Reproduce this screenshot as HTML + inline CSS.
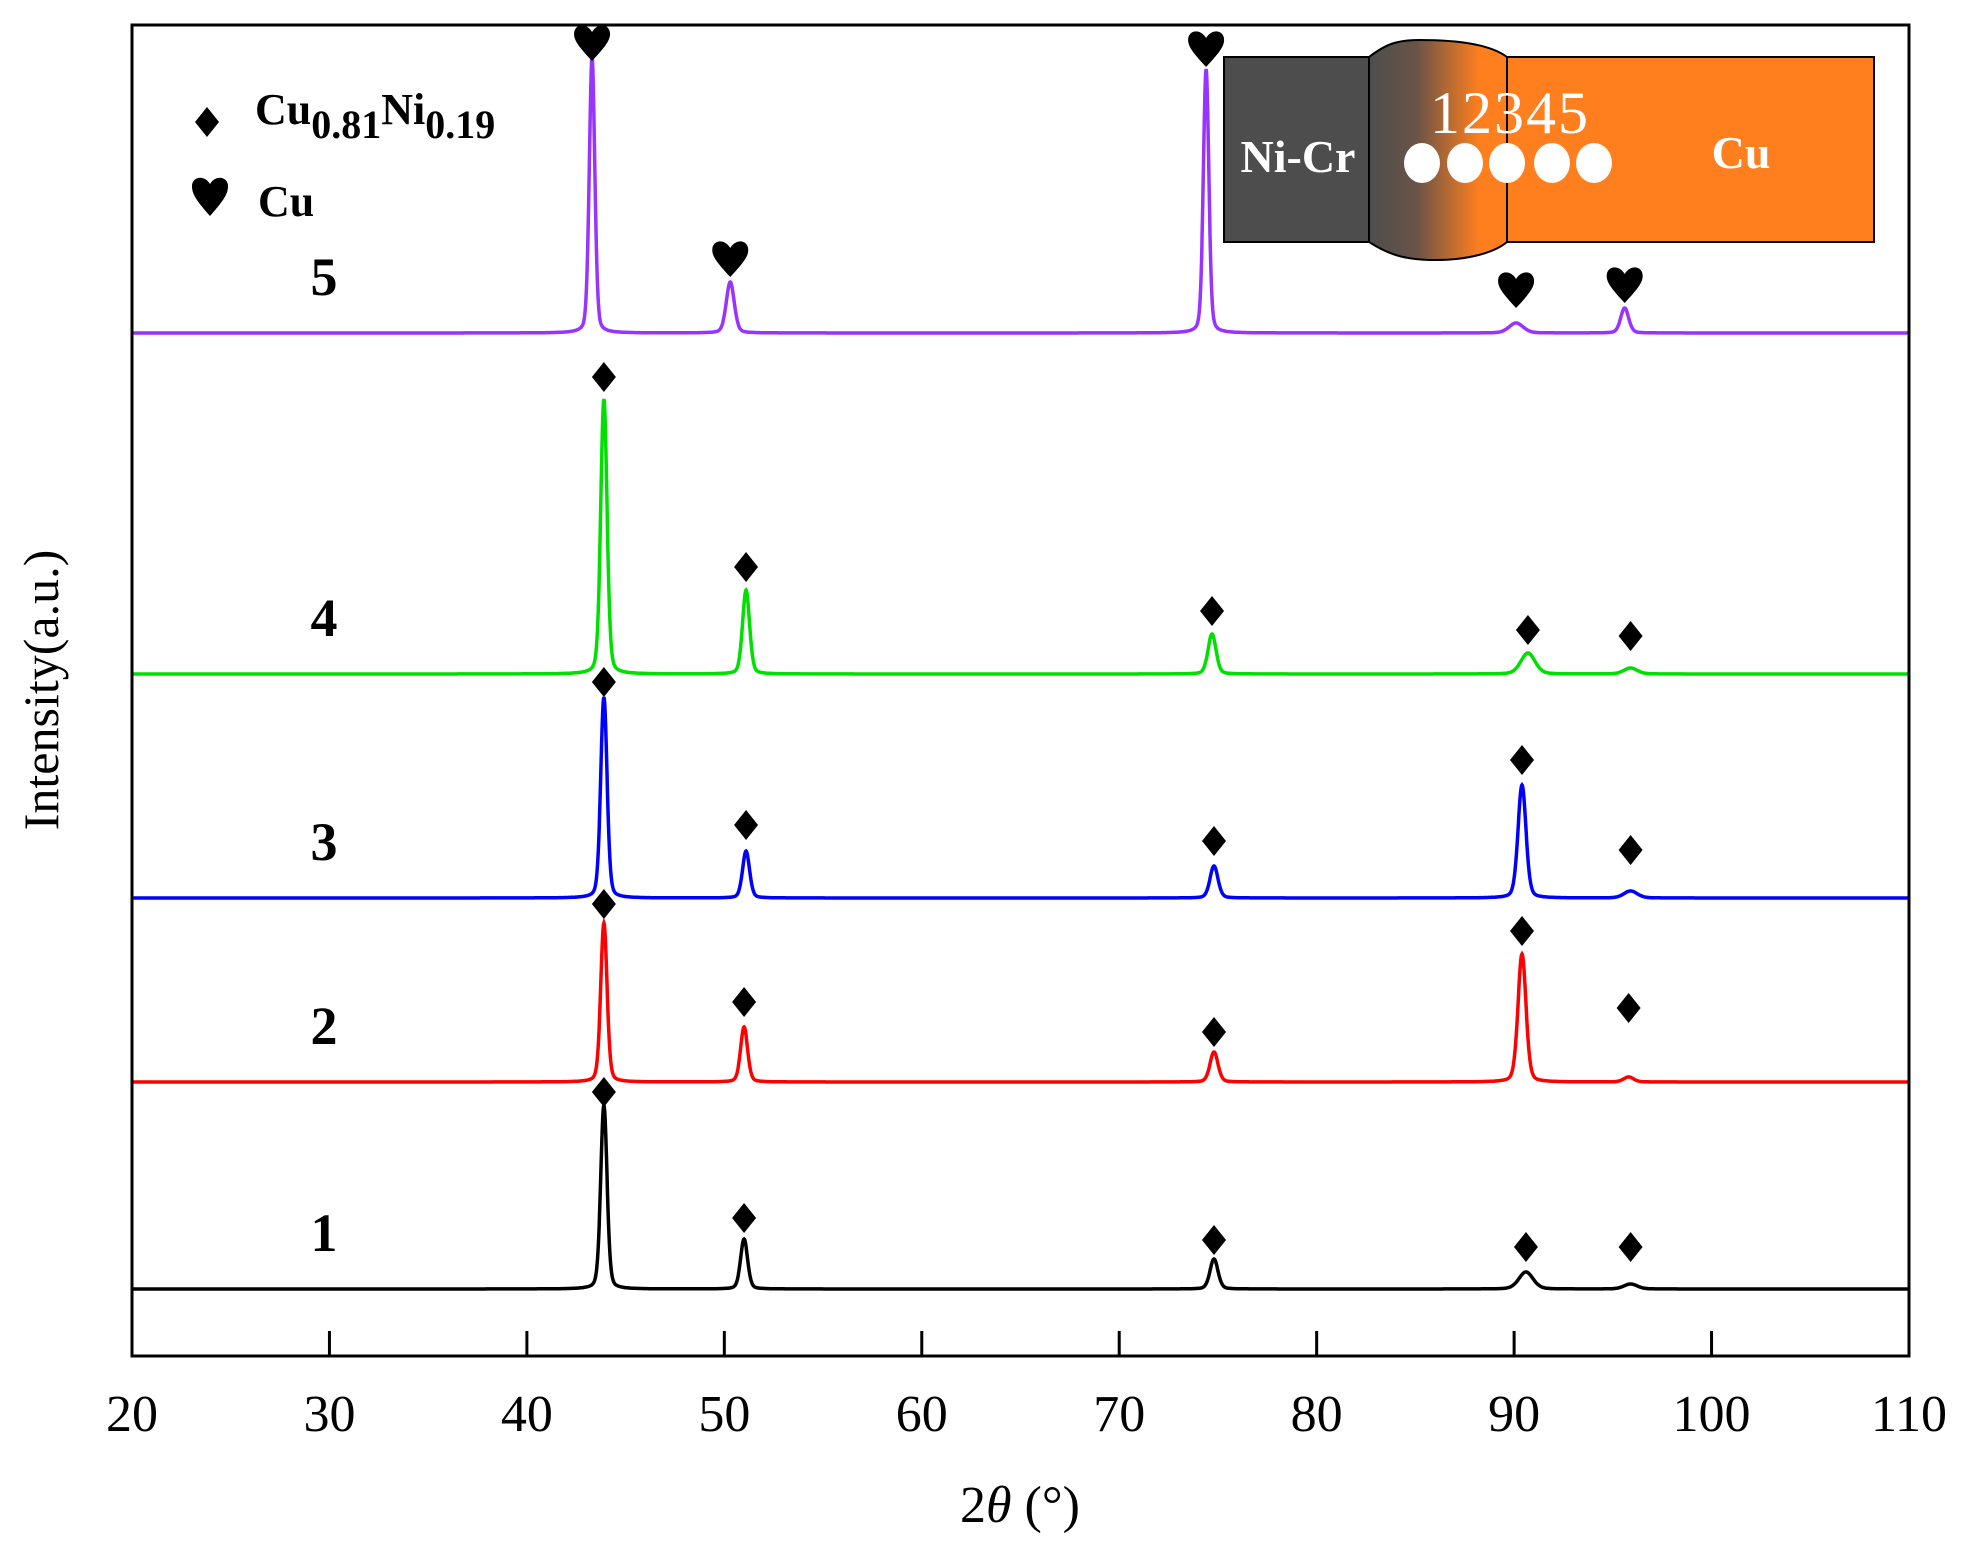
<!DOCTYPE html>
<html><head><meta charset="utf-8">
<style>
html,body{margin:0;padding:0;background:#fff;}
svg{display:block;font-family:"Liberation Serif",serif;}
</style></head>
<body>
<svg id="chart" width="1968" height="1553" viewBox="0 0 1968 1553">
<defs>
<linearGradient id="grad" x1="0" x2="1" y1="0" y2="0">
<stop offset="0" stop-color="#4d4d4d"/><stop offset="0.35" stop-color="#6b5447"/><stop offset="0.8" stop-color="#ff7f1e"/><stop offset="1" stop-color="#ff7f1e"/>
</linearGradient>
</defs>
<g id="plot"></g>
<rect x="132" y="25" width="1777" height="1331" fill="none" stroke="#000" stroke-width="3"/>
<g id="xaxis"></g>
<text x="1020" y="1522" text-anchor="middle" font-size="52">2<tspan font-style="italic">θ</tspan> (°)</text>
<text transform="translate(58,690) rotate(-90)" text-anchor="middle" font-size="50">Intensity(a.u.)</text>
<g>
<polygon points="207,107 219,122 207,137 195,122" fill="#000"/>
<text x="255" y="124" font-size="44" font-weight="bold">Cu<tspan font-size="40" dy="14">0.81</tspan><tspan dy="-14">Ni</tspan><tspan font-size="40" dy="14">0.19</tspan></text>
<path d="M210,216 C196,200 192,194 192,186 C192,177 204,174 210,184 C216,174 228,177 228,186 C228,194 224,200 210,216Z" fill="#000"/>
<text x="258" y="216" font-size="44" font-weight="bold">Cu</text>
</g>
<g>
<rect x="1224" y="57" width="145" height="185" fill="#4d4d4d" stroke="#000" stroke-width="2"/>
<rect x="1507" y="57" width="367" height="185" fill="#ff7f1e" stroke="#000" stroke-width="2"/>
<path d="M1369,57 C1385,45 1395,40 1420,40 C1470,40 1495,48 1507,57 L1507,242 C1495,252 1470,260 1435,260 C1400,260 1385,252 1369,242Z" fill="url(#grad)" stroke="#000" stroke-width="2"/>
<text x="1298" y="172" text-anchor="middle" font-size="46" font-weight="bold" fill="#fff">Ni-Cr</text>
<text x="1741" y="168" text-anchor="middle" font-size="46" font-weight="bold" fill="#fff">Cu</text>
<text x="1510" y="133" text-anchor="middle" font-size="60" fill="#fff" letter-spacing="2">12345</text>
<g fill="#fff">
<ellipse cx="1422" cy="163" rx="18" ry="20"/>
<ellipse cx="1465" cy="163" rx="18" ry="20"/>
<ellipse cx="1507" cy="163" rx="18" ry="20"/>
<ellipse cx="1552" cy="163" rx="18" ry="20"/>
<ellipse cx="1594" cy="163" rx="18" ry="20"/>
</g>
</g>
</svg>
<script>
const xTicks = [20,30,40,50,60,70,80,90,100,110];
const seriesNames = ["1","2","3","4","5"];
const seriesColors = ["#000000","#ff0000","#0000ff","#00e000","#9933ff"];
const seriesOffsets = [66,273,457,681,1022];
const peaks1 = [[43.9,184,0.38],[51.0,50,0.42],[74.8,30,0.48],[90.6,17,0.85],[95.9,5,0.8]];
const peaks2 = [[43.9,159,0.38],[51.0,55,0.42],[74.8,30,0.48],[90.4,128,0.48],[95.8,5,0.6]];
const peaks3 = [[43.9,201,0.38],[51.1,47,0.42],[74.8,32,0.48],[90.4,113,0.48],[95.9,7,0.8]];
const peaks4 = [[43.9,275,0.38],[51.1,84,0.42],[74.7,40,0.48],[90.7,21,0.85],[95.9,6,0.8]];
const peaks5 = [[43.3,277,0.33],[50.3,51,0.48],[74.4,264,0.33],[90.1,10,0.85],[95.6,25,0.48]];
const markerLevels1 = [197,71,49,42,42];
const markerLevels2 = [178,80,50,151,74];
const markerLevels3 = [216,73,57,138,48];
const markerLevels4 = [297,107,63,44,38];
const markerLevels5 = [289,73,283,42,47];
const markerTypes = ["diamond","diamond","diamond","diamond","heart"];
const labelLevels = [38,38,38,38,38];

const allPeaks=[peaks1,peaks2,peaks3,peaks4,peaks5];
const allMarkers=[markerLevels1,markerLevels2,markerLevels3,markerLevels4,markerLevels5];
const X0=132,X1=1909,Y0=1355,Y1=25;
const xs=v=>X0+(v-20)/(110-20)*(X1-X0);
const ys=v=>Y0-v*(Y0-Y1)/1330;
const NS="http://www.w3.org/2000/svg";
const plot=document.getElementById('plot'), xaxis=document.getElementById('xaxis');
function mk(tag,attrs,parent){const e=document.createElementNS(NS,tag);for(const k in attrs)e.setAttribute(k,attrs[k]);parent.appendChild(e);return e;}

xTicks.forEach(t=>{
  const l=mk('line',{x1:xs(t),x2:xs(t),y1:Y0,y2:Y0-24,stroke:'#000','stroke-width':3},xaxis);
  
  
  const tx=mk('text',{x:xs(t),y:1431,'text-anchor':'middle','font-size':52},xaxis);
  tx.textContent=t;
  
  
});

allPeaks.forEach((pk,i)=>{
  const off=seriesOffsets[i];
  let d='';
  for(let x=20;x<=110.0001;x+=0.02){
    let y=0;
    pk.forEach(p=>{const g=(x-p[0])/(p[2]/2);y+=p[1]*(0.75*Math.exp(-0.693*g*g)+0.25/(1+g*g));});
    d+=(d?'L':'M')+xs(x).toFixed(1)+','+ys(off+y).toFixed(1);
  }
  const path=mk('path',{d:d,fill:'none',stroke:seriesColors[i],'stroke-width':3.5},plot);
  
  
  const lab=mk('text',{x:324,y:ys(off+labelLevels[i]),'text-anchor':'middle','font-size':54,'font-weight':'bold'},plot);
  lab.textContent=seriesNames[i];
  
  
  pk.forEach((p,j)=>{
    const cx=xs(p[0]), cy=ys(off+allMarkers[i][j]);
    let m;
    if(markerTypes[i]==='diamond'){
      m=mk('polygon',{points:`${cx},${cy-15} ${cx+12},${cy} ${cx},${cy+15} ${cx-12},${cy}`,fill:'#000'},plot);
      
    } else {
      m=mk('path',{d:`M${cx},${cy+17} C${cx-14},${cy+2} ${cx-18},${cy-4} ${cx-18},${cy-10} C${cx-18},${cy-20} ${cx-6},${cy-22} ${cx},${cy-12} C${cx+6},${cy-22} ${cx+18},${cy-20} ${cx+18},${cy-10} C${cx+18},${cy-4} ${cx+14},${cy+2} ${cx},${cy+17}Z`,fill:'#000'},plot);
      
    }
    
  });
});
</script>
</body></html>
